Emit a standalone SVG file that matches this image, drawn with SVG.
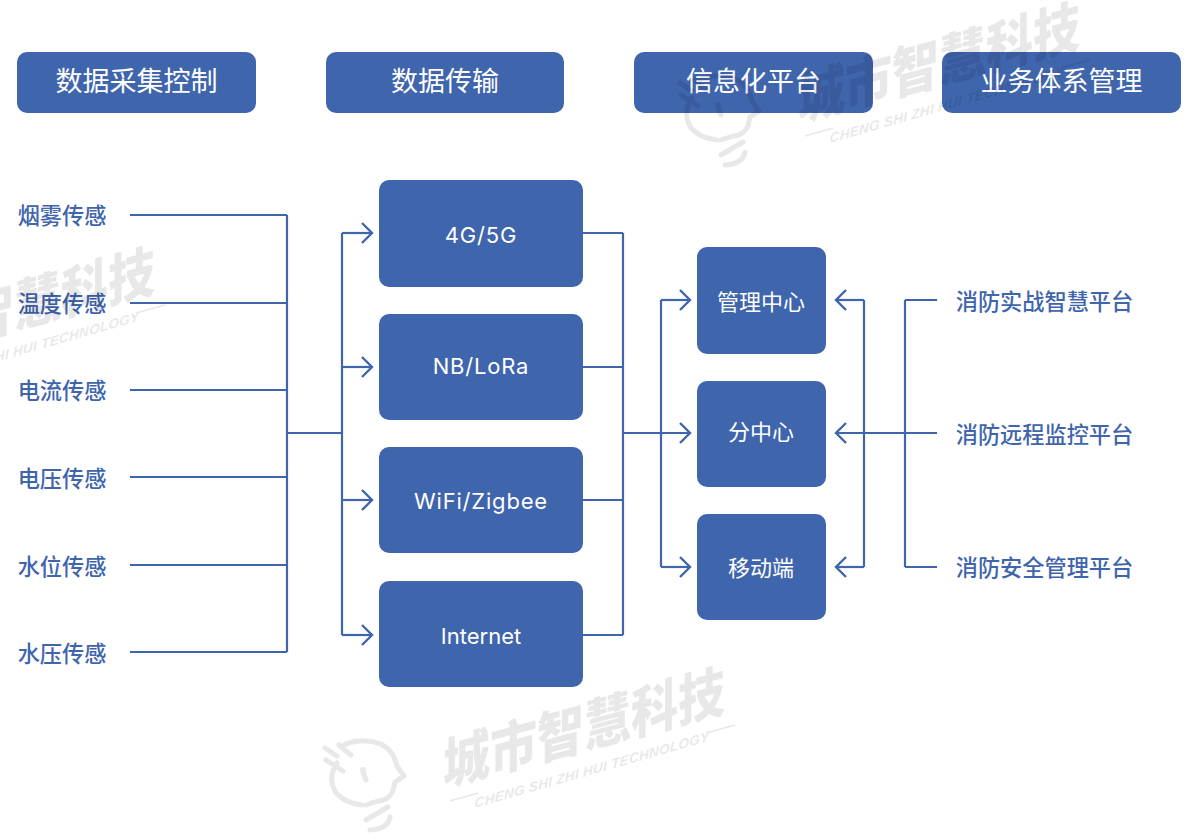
<svg xmlns="http://www.w3.org/2000/svg" width="1200" height="840" viewBox="0 0 1200 840">
<style>
text{font-family:Inter,"Noto Sans CJK SC","Noto Sans",sans-serif;text-anchor:middle;dominant-baseline:central}
.box{fill:#3f65ad}
.h{fill:#fff;font-size:27px}
.b{fill:#fff;font-size:22px}
.sp{letter-spacing:.8px}
.l{fill:#3f65ad;font-size:22.2px;font-weight:500}
.c{fill:none;stroke:#3f65ad;stroke-width:2.2}
.wt{fill:#000;font-size:47px;font-weight:900}
.ws{fill:#000;font-family:"Liberation Sans",sans-serif;font-size:13.5px;font-style:italic;font-weight:700;letter-spacing:.3px}
.wl{fill:none;stroke:#000;stroke-width:1.5}
.wi{fill:none;stroke:#000;stroke-width:5;stroke-linecap:round;stroke-linejoin:round}
</style>
<defs>
<marker id="a" markerUnits="userSpaceOnUse" markerWidth="14" markerHeight="24" viewBox="0 0 14 24" refX="12" refY="12" orient="auto"><path d="M2 2L12 12L2 22" fill="none" stroke="#3f65ad" stroke-width="2.4"/></marker>
<g id="wm" opacity=".085">
<text class="wt" transform="translate(584 728) skewY(-15) scale(1 1.2)">城市智慧科技</text>
<text class="ws" transform="translate(592 770) skewY(-16)">CHENG SHI ZHI HUI TECHNOLOGY</text>
<path class="wl" d="M450 801L478 793M706 733L735 725"/>
<path class="wi" d="M344 745Q362 737 381 744Q394 751 397 766L404 776L395 782L393 791Q388 801 378 801L366 805M337 763Q327 778 336 793Q345 803 362 805M366 820L388 807M370 830Q388 829 390 817M325 748L337 756M326 760L343 771M339 745L351 755"/>
<circle cx="363" cy="770" r="3" fill="#000"/><path class="wi" d="M363 772L366 780"/>
</g>
</defs>
<rect width="1200" height="840" fill="#fff"/>
<g id="connectors">
<path class="c" d="M130 215H287M130 303H287M130 390H287M130 477H287M130 565H287M130 652H287M287 215V652M287 433H342"/>
<path class="c" d="M342 233V635"/>
<path class="c" marker-end="url(#a)" d="M342 233H372"/>
<path class="c" marker-end="url(#a)" d="M342 367H372"/>
<path class="c" marker-end="url(#a)" d="M342 500H372"/>
<path class="c" marker-end="url(#a)" d="M342 635H372"/>
<path class="c" d="M583 233H623M583 367H623M583 500H623M583 635H623M623 233V635"/>
<path class="c" marker-end="url(#a)" d="M623 433H690"/>
<path class="c" d="M661 300V567"/>
<path class="c" marker-end="url(#a)" d="M661 300H690"/>
<path class="c" marker-end="url(#a)" d="M661 567H690"/>
<path class="c" d="M864 300V567M905 300V567"/>
<path class="c" d="M937 300H905M937 567H905"/>
<path class="c" marker-end="url(#a)" d="M864 300H836"/>
<path class="c" marker-end="url(#a)" d="M937 433H836"/>
<path class="c" marker-end="url(#a)" d="M864 567H836"/>
</g>
<g id="h1"><rect class="box" x="17" y="52" width="239" height="61" rx="10"/><text class="h" x="136.500" y="81">数据采集控制</text></g>
<g id="h2"><rect class="box" x="326" y="52" width="238" height="61" rx="10"/><text class="h" x="445" y="81">数据传输</text></g>
<g id="h3"><rect class="box" x="634" y="52" width="239" height="61" rx="10"/><text class="h" x="753.500" y="81">信息化平台</text></g>
<g id="h4"><rect class="box" x="942" y="52" width="239" height="61" rx="10"/><text class="h" x="1061.500" y="81">业务体系管理</text></g>
<g id="s1"><text class="l" x="62" y="215">烟雾传感</text></g>
<g id="s2"><text class="l" x="62" y="303">温度传感</text></g>
<g id="s3"><text class="l" x="62" y="390">电流传感</text></g>
<g id="s4"><text class="l" x="62" y="478">电压传感</text></g>
<g id="s5"><text class="l" x="62" y="566">水位传感</text></g>
<g id="s6"><text class="l" x="62" y="653">水压传感</text></g>
<g id="t1"><rect class="box" x="379" y="180" width="204" height="107" rx="10"/><text class="b sp" x="481" y="235">4G/5G</text></g>
<g id="t2"><rect class="box" x="379" y="314" width="204" height="106" rx="10"/><text class="b sp" x="481" y="366">NB/LoRa</text></g>
<g id="t3"><rect class="box" x="379" y="447" width="204" height="106" rx="10"/><text class="b sp" x="481" y="501">WiFi/Zigbee</text></g>
<g id="t4"><rect class="box" x="379" y="581" width="204" height="106" rx="10"/><text class="b" x="481" y="636">Internet</text></g>
<g id="p1"><rect class="box" x="697" y="247" width="129" height="107" rx="10"/><text class="b" x="761" y="302">管理中心</text></g>
<g id="p2"><rect class="box" x="697" y="381" width="129" height="106" rx="10"/><text class="b" x="761" y="432">分中心</text></g>
<g id="p3"><rect class="box" x="697" y="514" width="129" height="106" rx="10"/><text class="b" x="761" y="568">移动端</text></g>
<g id="r1"><text class="l" x="1044.500" y="301">消防实战智慧平台</text></g>
<g id="r2"><text class="l" x="1044.500" y="434">消防远程监控平台</text></g>
<g id="r3"><text class="l" x="1044.500" y="567">消防安全管理平台</text></g>
<g id="watermarks">
<use href="#wm"/>
<use href="#wm" x="355" y="-665"/>
<use href="#wm" x="-570" y="-420"/>
</g>
</svg>
